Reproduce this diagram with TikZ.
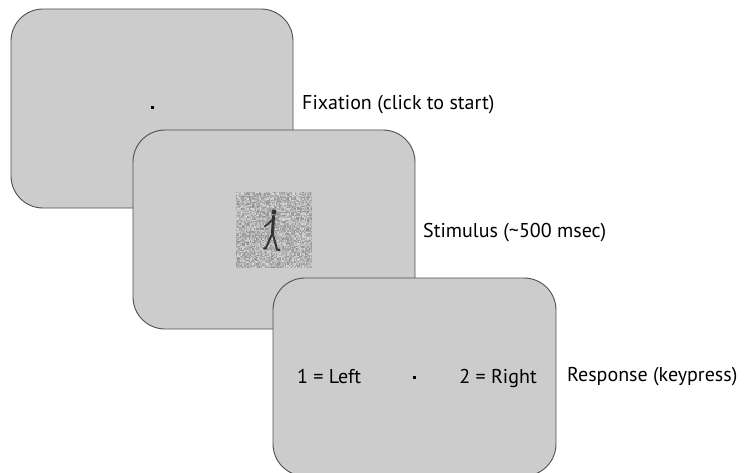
\documentclass[tikz,border=0pt]{standalone}
\usepackage{fontspec}
\setmainfont{PT Sans}
\usetikzlibrary{calc}
\begin{document}
\begin{tikzpicture}[x=1pt,y=-1pt,
  screen/.style={fill=scrgray,draw=edgegray,line width=0.9pt,rounded corners=32pt},
  lbl/.style={anchor=west,inner sep=0pt,font=\fontsize{20}{22}\selectfont},
  dot/.style={fill=black,minimum size=3pt,inner sep=0pt,draw=none}]
\definecolor{scrgray}{HTML}{CCCCCC}
\definecolor{edgegray}{HTML}{505050}
\definecolor{figgray}{HTML}{333333}
\useasboundingbox (0,0) rectangle (746,473);

% fixation screen
\draw[screen] (11,9) rectangle (293,208);
\node[dot] (fix1) at (152,108) {};
\node[lbl] (lfix) at (302,105) {Fixation (click to start)};

% stimulus screen
\draw[screen] (133,130) rectangle (415,329);
\coordinate (patch) at (236,192);
\pgfmathsetseed{41}
\foreach \i in {0,...,60}{
  \foreach \j in {0,...,60}{
    \pgfmathsetmacro\g{int(16+28*rnd)}
    \fill[black!\g] ($(patch)+(\i*1.25,\j*1.25)$) rectangle ++(1.25,1.25);
  }
}
% walking figure silhouette
\begin{scope}[figgray,line cap=round,line join=round]
  \fill (274,212) circle (2.5);
  \draw[line width=3pt] (273.5,216) -- (272.5,233);
  \draw[line width=1.5pt] (273,219) -- (268,224) -- (264.5,226.5);
  \draw[line width=2pt] (272.5,233) -- (269,241) -- (266,248) -- (264,248.5);
  \draw[line width=2pt] (272.5,233) -- (275,242) -- (277,249.5) -- (279.5,250);
\end{scope}
\node[lbl] (lstim) at (423,233) {Stimulus (\textasciitilde500 msec)};

% response screen
\draw[screen] (273,278) rectangle (556,476);
\node[dot] (fix3) at (414,377) {};
\node[lbl,anchor=base west] (left) at (297,383) {1 = Left};
\node[lbl,anchor=base east] (right) at (537,383) {2 = Right};
\node[lbl] (lresp) at (567,377) {Response (keypress)};
\end{tikzpicture}
\end{document}
